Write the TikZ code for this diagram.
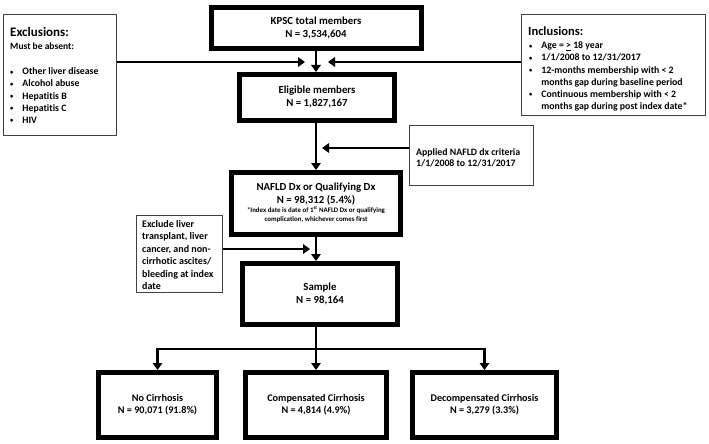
\documentclass[tikz,border=0pt]{standalone}
\usepackage{fontspec}
\setmainfont{Carlito}[Ligatures=NoCommon]
\usetikzlibrary{arrows.meta}
\newcommand{\smbul}{\raisebox{0.6pt}{\fontsize{6.5}{6.5}\selectfont\textbullet}}
\begin{document}
\begin{tikzpicture}[x=1pt,y=-1pt,
  mainbox/.style={draw=black,line width=5pt,fill=white,align=center,inner sep=0pt,
    font=\bfseries\fontsize{10.8}{12.5}\selectfont},
  sidebox/.style={draw=black!75,line width=1.2pt,fill=white,inner sep=0pt},
  txt/.style={font=\bfseries\fontsize{9.8}{12.2}\selectfont,align=left,inner sep=0pt},
  conn/.style={line width=2.6pt,draw=black},
  arr/.style={conn,-{Triangle[length=7pt,width=9.5pt]}}]
\useasboundingbox (0,0) rectangle (709,444);

% main boxes
\node[mainbox,minimum width=210pt,minimum height=41pt] (kpsc) at (316,28)
  {KPSC total members\\N = 3,534,604};
\node[mainbox,minimum width=155pt,minimum height=46pt] (elig) at (317,97.5)
  {\raisebox{-4pt}{\begin{tabular}{@{}c@{}}Eligible members\\N = 1,827,167\end{tabular}}};
\node[mainbox,minimum width=169pt,minimum height=62pt] (nafld) at (316,203.5)
  {\raisebox{-2pt}{\begin{tabular}{@{}c@{}}NAFLD Dx or Qualifying Dx\\N = 98,312 (5.4\%)\\[-3pt]
   {\fontsize{6.9}{8}\selectfont *Index date is date of 1\textsuperscript{st} NAFLD Dx or qualifying}\\[-4pt]
   {\fontsize{6.9}{8}\selectfont complication, whichever comes first}\end{tabular}}};
\node[mainbox,minimum width=155pt,minimum height=61pt] (sample) at (320,294)
  {Sample\\N = 98,164};
\node[mainbox,minimum width=118pt,minimum height=65pt,font=\bfseries\fontsize{10.2}{12.5}\selectfont] (nocir) at (157.5,405)
  {\raisebox{-3pt}{\begin{tabular}{@{}c@{}}No Cirrhosis\\N = 90,071 (91.8\%)\end{tabular}}};
\node[mainbox,minimum width=141pt,minimum height=65pt,font=\bfseries\fontsize{10.2}{12.5}\selectfont] (comp) at (316,405)
  {\raisebox{-3pt}{\begin{tabular}{@{}c@{}}Compensated Cirrhosis\\N = 4,814 (4.9\%)\end{tabular}}};
\node[mainbox,minimum width=144pt,minimum height=65pt,font=\bfseries\fontsize{10.2}{12.5}\selectfont] (decomp) at (484.5,405)
  {\raisebox{-3pt}{\begin{tabular}{@{}c@{}}Decompensated Cirrhosis\\N = 3,279 (3.3\%)\end{tabular}}};

% side boxes
\node[sidebox,minimum width=113pt,minimum height=121pt] (excl) at (60,75) {};
\node[sidebox,minimum width=184pt,minimum height=101pt] (incl) at (613.5,65) {};
\node[sidebox,minimum width=124pt,minimum height=60pt] (appl) at (471.5,155.5) {};
\node[sidebox,minimum width=86pt,minimum height=77pt] (exrm) at (179.5,254) {};

% side box texts
\node[txt,anchor=base west,font=\bfseries\fontsize{13}{15}\selectfont] (exclT) at (10,37) {Exclusions:};
\node[txt,anchor=base west,font=\bfseries\fontsize{9.5}{12}\selectfont] (exclS) at (10,50) {Must be absent:};
\node[txt,anchor=north west] (exclL) at (10,66)
  {\begin{tabular}{@{}l@{\hspace{9pt}}l@{}}
   \smbul & Other liver disease\\
   \smbul & Alcohol abuse\\
   \smbul & Hepatitis B\\
   \smbul & Hepatitis C\\
   \smbul & HIV
  \end{tabular}};
\node[txt,anchor=base west,font=\bfseries\fontsize{12.5}{15}\selectfont] (inclT) at (528,36) {Inclusions:};
\node[txt,anchor=north west] (inclL) at (529,40)
  {\begin{tabular}{@{}l@{\hspace{9pt}}l@{}}
   \smbul & Age = \underline{>} 18 year\\
   \smbul & 1/1/2008 to 12/31/2017\\
   \smbul & 12-months membership with < 2\\
    & months gap during baseline period\\
   \smbul & Continuous membership with < 2\\
    & months gap during post index date*
  \end{tabular}};
\node[txt,anchor=west,font=\bfseries\fontsize{9.8}{11}\selectfont] (applT) at (416,157.5)
  {Applied NAFLD dx criteria\\1/1/2008 to 12/31/2017};
\node[txt,anchor=west,font=\bfseries\fontsize{10}{12.4}\selectfont] (exrmT) at (142,255)
  {Exclude liver\\transplant, liver\\cancer, and non-\\cirrhotic ascites/\\bleeding at index\\date};

% junction coordinates on the main line
\coordinate (j1) at (316,62);
\coordinate (j2) at (316,148);
\coordinate (j3) at (316,249);
\coordinate (b) at (316,349);

% connectors
\draw[arr] (kpsc.south) -- (elig.north -| kpsc.south);
\draw[arr] (excl.east |- j1) -- ([xshift=-11pt]j1);
\draw[arr] (incl.west |- j1) -- ([xshift=12pt]j1);
\draw[arr] (elig.south -| j2) -- (nafld.north -| j2);
\draw[arr] (appl.west |- j2) -- ([xshift=6pt]j2);
\draw[arr] (nafld.south -| j3) -- (sample.north -| j3);
\draw[arr] (exrm.east |- j3) -- ([xshift=-6pt]j3);
\draw[conn] (sample.south -| b) -- (b);
\draw[arr] (b) -- (comp.north -| b);
\draw[arr] ([xshift=1.3pt]b) -| (nocir.north);
\draw[arr] ([xshift=-1.3pt]b) -| (decomp.north);
\end{tikzpicture}
\end{document}
